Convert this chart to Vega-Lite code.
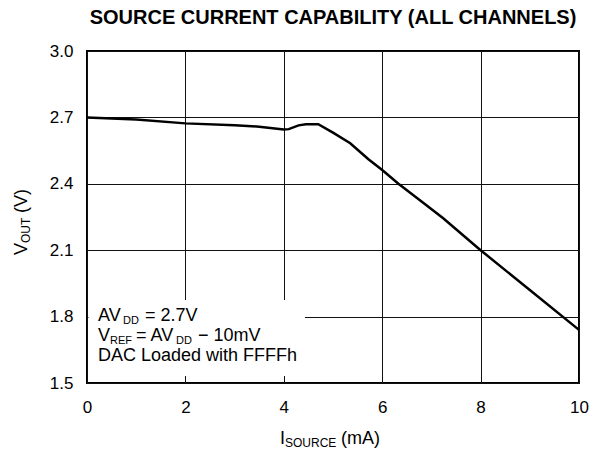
{
  "$schema": "https://vega.github.io/schema/vega-lite/v6.json",
  "width": 492,
  "height": 332,
  "autosize": "none",
  "padding": {"left": 87, "top": 51, "right": 13, "bottom": 68},
  "background": "white",
  "config": {
    "font": "Liberation Sans",
    "view": {"stroke": "black", "strokeWidth": 2},
    "text": {"font": "Liberation Sans", "fontWeight": "normal", "color": "black", "align": "left", "baseline": "alphabetic"}
  },
  "title": {
    "text": "SOURCE CURRENT CAPABILITY (ALL CHANNELS)",
    "fontSize": 20,
    "fontWeight": "bold",
    "color": "black",
    "anchor": "middle",
    "offset": 14,
    "font": "Liberation Sans"
  },
  "datasets": {
    "curve": [
      {"i": 0, "v": 2.700},
      {"i": 1, "v": 2.690},
      {"i": 2, "v": 2.673},
      {"i": 3, "v": 2.665},
      {"i": 3.5, "v": 2.658},
      {"i": 4.0, "v": 2.645},
      {"i": 4.1, "v": 2.647},
      {"i": 4.3, "v": 2.664},
      {"i": 4.45, "v": 2.669},
      {"i": 4.7, "v": 2.669},
      {"i": 5.0, "v": 2.631},
      {"i": 5.35, "v": 2.583},
      {"i": 5.72, "v": 2.511},
      {"i": 6.0, "v": 2.462},
      {"i": 6.33, "v": 2.400},
      {"i": 6.8, "v": 2.320},
      {"i": 7.24, "v": 2.244},
      {"i": 8.0, "v": 2.100},
      {"i": 9.0, "v": 1.920},
      {"i": 10.0, "v": 1.740}
    ],
    "one": [{"k": 1}]
  },
  "layer": [
    {
      "data": {"name": "curve"},
      "mark": {"type": "line", "color": "black", "strokeWidth": 2.5},
      "encoding": {
        "x": {
          "field": "i", "type": "quantitative",
          "scale": {"domain": [0, 10], "nice": false, "zero": false},
          "axis": {
            "title": null, "values": [0, 2, 4, 6, 8, 10], "grid": true,
            "gridColor": "#111", "gridWidth": 1, "gridOpacity": 1,
            "domain": false, "ticks": false,
            "labelFontSize": 17, "labelPadding": 16, "labelColor": "black",
            "labelFont": "Liberation Sans", "labelFlush": false
          }
        },
        "y": {
          "field": "v", "type": "quantitative",
          "scale": {"domain": [1.5, 3.0], "nice": false, "zero": false},
          "axis": {
            "title": null, "values": [1.5, 1.8, 2.1, 2.4, 2.7, 3.0], "format": ".1f",
            "grid": true, "gridColor": "#111", "gridWidth": 1, "gridOpacity": 1,
            "domain": false, "ticks": false,
            "labelFontSize": 17, "labelPadding": 14, "labelColor": "black",
            "labelFont": "Liberation Sans", "labelFlush": false
          }
        }
      }
    },
    {
      "data": {"name": "one"},
      "mark": {"type": "rect", "fill": "white", "strokeWidth": 0},
      "encoding": {
        "x": {"datum": 0.03}, "x2": {"datum": 4.43},
        "y": {"datum": 1.532}, "y2": {"datum": 1.875}
      }
    },
    {"data": {"name": "one"}, "mark": {"type": "text", "text": "AV", "fontSize": 18, "dx": 11, "dy": -62},
     "encoding": {"x": {"datum": 0}, "y": {"datum": 1.5}}},
    {"data": {"name": "one"}, "mark": {"type": "text", "text": "DD", "fontSize": 11, "dx": 36, "dy": -59},
     "encoding": {"x": {"datum": 0}, "y": {"datum": 1.5}}},
    {"data": {"name": "one"}, "mark": {"type": "text", "text": "= 2.7V", "fontSize": 18, "dx": 58, "dy": -62},
     "encoding": {"x": {"datum": 0}, "y": {"datum": 1.5}}},
    {"data": {"name": "one"}, "mark": {"type": "text", "text": "V", "fontSize": 18, "dx": 11, "dy": -42},
     "encoding": {"x": {"datum": 0}, "y": {"datum": 1.5}}},
    {"data": {"name": "one"}, "mark": {"type": "text", "text": "REF", "fontSize": 11, "dx": 23, "dy": -39},
     "encoding": {"x": {"datum": 0}, "y": {"datum": 1.5}}},
    {"data": {"name": "one"}, "mark": {"type": "text", "text": "= AV", "fontSize": 18, "dx": 49, "dy": -42},
     "encoding": {"x": {"datum": 0}, "y": {"datum": 1.5}}},
    {"data": {"name": "one"}, "mark": {"type": "text", "text": "DD", "fontSize": 11, "dx": 89, "dy": -39},
     "encoding": {"x": {"datum": 0}, "y": {"datum": 1.5}}},
    {"data": {"name": "one"}, "mark": {"type": "text", "text": "− 10mV", "fontSize": 18, "dx": 111, "dy": -42},
     "encoding": {"x": {"datum": 0}, "y": {"datum": 1.5}}},
    {"data": {"name": "one"}, "mark": {"type": "text", "text": "DAC Loaded with FFFFh", "fontSize": 18, "dx": 11, "dy": -22},
     "encoding": {"x": {"datum": 0}, "y": {"datum": 1.5}}},
    {"data": {"name": "one"}, "mark": {"type": "text", "text": "I", "fontSize": 18, "dx": -53, "dy": 61},
     "encoding": {"x": {"datum": 5}, "y": {"datum": 1.5}}},
    {"data": {"name": "one"}, "mark": {"type": "text", "text": "SOURCE", "fontSize": 12, "dx": -48, "dy": 64},
     "encoding": {"x": {"datum": 5}, "y": {"datum": 1.5}}},
    {"data": {"name": "one"}, "mark": {"type": "text", "text": "(mA)", "fontSize": 18, "dx": 8, "dy": 61},
     "encoding": {"x": {"datum": 5}, "y": {"datum": 1.5}}},
    {"data": {"name": "one"}, "mark": {"type": "text", "text": "V", "fontSize": 18, "angle": 270, "dx": -38, "dy": -60},
     "encoding": {"x": {"datum": 0}, "y": {"datum": 2.25}}},
    {"data": {"name": "one"}, "mark": {"type": "text", "text": "OUT", "fontSize": 12, "angle": 270, "dx": -26, "dy": -57},
     "encoding": {"x": {"datum": 0}, "y": {"datum": 2.25}}},
    {"data": {"name": "one"}, "mark": {"type": "text", "text": "(V)", "fontSize": 18, "angle": 270, "dx": 4, "dy": -60},
     "encoding": {"x": {"datum": 0}, "y": {"datum": 2.25}}}
  ]
}
